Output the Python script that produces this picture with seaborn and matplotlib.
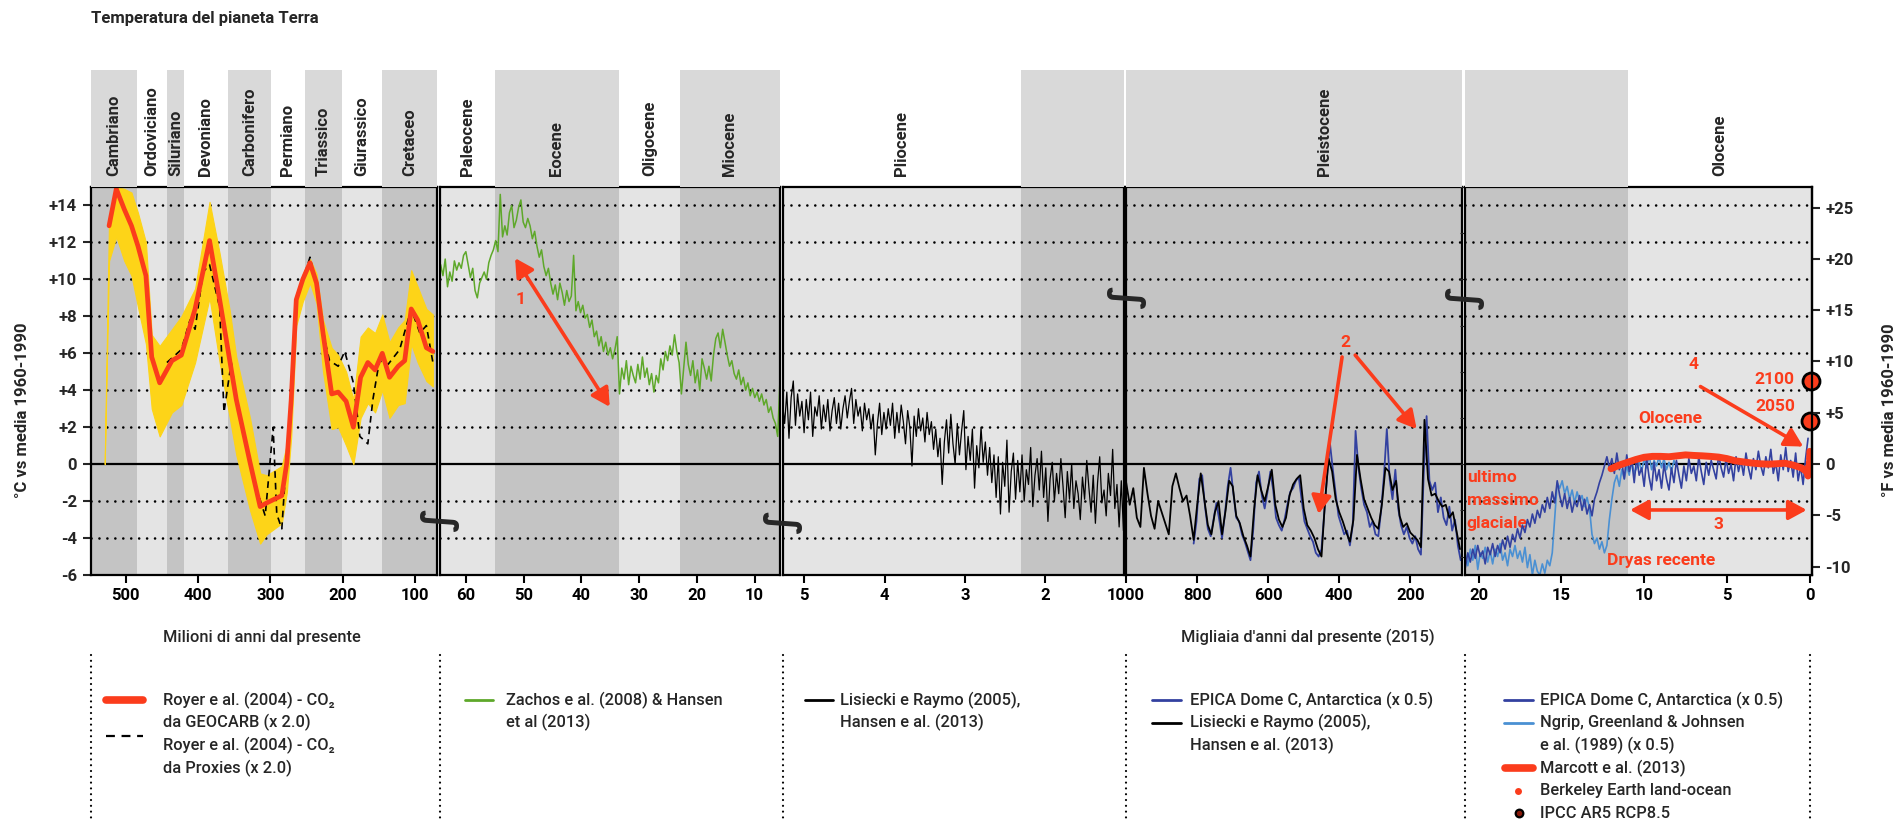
import numpy as np
import matplotlib
matplotlib.use("Agg")
import matplotlib.pyplot as plt
from matplotlib.lines import Line2D
import seaborn as sns

# ---------------------------------------------------------------- data
# Geological periods (Myr before present) and Cenozoic epochs
geo_names = ["Cambriano", "Ordoviciano", "Siluriano", "Devoniano", "Carbonifero",
             "Permiano", "Triassico", "Giurassico", "Cretaceo"]
geo_bounds = [548, 485, 443, 419, 359, 299, 252, 201, 145, 66]
ceno_names = ["Paleocene", "Eocene", "Oligocene", "Miocene"]
ceno_bounds = [66, 55, 33.5, 23, 5.33]
pliocene_end_myr = 2.3
holocene_start_kyr = 11.0

# Royer et al. (2004), GEOCARB (x 2.0), with uncertainty band; Myr
royer_age = [523, 513, 502, 492, 483, 472, 464, 453, 436, 423,
             404, 384, 370, 356, 347, 328, 314, 305, 284, 277,
             271, 264, 255, 245, 236, 227, 215, 206, 195, 185,
             175, 165, 155, 145, 135, 123, 114, 105, 96, 84, 75]
royer_temp = [12.9, 14.9, 13.8, 12.9, 11.8, 10.2, 5.8, 4.4, 5.6, 5.9,
              8.4, 12.1, 8.9, 5.6, 3.5, 0.1, -2.3, -2.1, -1.7, 0.1,
              3.5, 8.9, 10.0, 10.9, 9.8, 7.1, 3.8, 3.9, 3.4, 2.0,
              4.7, 5.5, 5.1, 6.0, 4.7, 5.3, 5.6, 8.4, 7.8, 6.3, 6.1]
royer_band_age = [529] + royer_age
royer_band_hi = [0.3,
                 13.3, 15.0, 14.9, 14.7, 13.6, 12.0, 7.0, 6.4, 7.3, 8.0,
                 9.5, 14.2, 11.4, 8.3, 5.8, 2.5, -0.5, -0.6, -0.1, 1.1,
                 4.0, 9.2, 10.3, 11.1, 10.3, 7.8, 6.3, 5.9, 5.0, 3.5,
                 6.9, 7.4, 7.1, 8.1, 6.6, 7.4, 7.8, 10.5, 9.6, 8.4, 8.1]
royer_band_lo = [0.0,
                 11.0, 12.3, 11.0, 10.2, 8.5, 6.5, 3.0, 1.5, 2.8, 3.2,
                 5.5, 9.0, 5.5, 2.5, 0.5, -2.5, -4.3, -3.8, -3.2, -1.5,
                 1.5, 7.5, 8.8, 9.8, 8.7, 5.0, 1.9, 2.0, 1.0, 0.0,
                 2.5, 3.3, 2.8, 4.0, 2.5, 3.2, 3.3, 6.5, 5.5, 4.5, 4.2]

# Royer et al. (2004), proxies (x 2.0); Myr
proxy_age = [443, 423, 411, 404, 393, 384, 370, 364, 354, 342,
             324, 307, 296, 291, 284, 278, 271, 264, 245, 234,
             224, 218, 206, 197, 185, 176, 165, 158, 149, 137,
             121, 105, 93, 84, 75]
proxy_temp = [5.5, 6.2, 7.8, 7.3, 10.4, 10.8, 8.5, 2.8, 5.5, 2.4,
              -0.7, -2.8, 2.0, -2.7, -3.5, 0.1, 3.5, 8.9, 11.2, 9.3,
              6.6, 5.6, 5.3, 6.1, 4.4, 1.5, 1.1, 3.5, 5.6, 5.4,
              6.2, 8.4, 7.1, 7.5, 5.5]

# Zachos et al. (2008) & Hansen et al. (2013); 64.8 -> 5.6 Myr
zachos_span = (64.8, 5.6)
zachos_temp = [9.3, 10.8, 10.2, 11.1, 9.6, 10.4, 9.9, 11.0, 10.5, 10.9,
               10.6, 11.3, 11.5, 10.8, 10.1, 10.6, 9.4, 9.0, 9.8, 10.1,
               10.4, 10.0, 10.9, 11.3, 11.6, 12.1, 11.5, 14.6, 12.3, 12.9,
               12.4, 13.6, 14.0, 12.8, 13.2, 13.9, 14.3, 13.1, 12.8, 13.3,
               12.9, 12.2, 12.6, 11.8, 11.2, 11.6, 10.7, 10.2, 10.6, 9.8,
               9.2, 9.7, 8.9, 9.8, 9.3, 8.6, 9.4, 8.8, 9.1, 11.3,
               8.3, 8.8, 8.2, 8.6, 7.9, 8.1, 7.4, 7.8, 6.9, 7.2,
               6.4, 6.9, 6.1, 6.6, 5.9, 6.3, 5.7, 6.2, 6.9, 3.8,
               5.2, 4.6, 5.6, 4.3, 5.3, 4.8, 4.4, 5.4, 4.6, 5.8,
               4.7, 5.2, 4.3, 4.9, 3.9, 4.8, 4.4, 5.7, 5.1, 6.1,
               5.6, 6.4, 5.9, 7.0, 6.1, 5.5, 3.8, 5.2, 6.6, 5.4,
               4.8, 5.6, 4.4, 5.1, 4.0, 5.7, 5.2, 4.6, 5.3, 4.5,
               5.9, 6.8, 7.1, 6.3, 7.3, 6.6, 5.9, 5.3, 5.6, 4.9,
               4.6, 5.1, 4.3, 4.7, 4.0, 4.4, 3.7, 4.1, 3.6, 3.9,
               3.4, 3.8, 3.2, 3.5, 2.8, 3.1, 2.5, 2.2, 1.5, 4.6]

# Lisiecki & Raymo (2005), Hansen et al. (2013); 5.27 -> 1.0 Myr
lr04_plio_span = (5.27, 1.0)
lr04_plio_temp = [3.3, 2.2, 3.9, 1.4, 3.6, 4.5, 2.1, 3.8, 2.6, 3.4,
                  1.7, 3.5, 2.4, 3.9, 1.5, 3.1, 2.6, 3.7, 1.9, 3.2,
                  2.3, 3.5, 1.8, 2.9, 3.6, 2.2, 3.3, 1.9, 3.0, 3.7,
                  2.5, 3.4, 4.1, 2.2, 3.5, 2.6, 3.1, 1.8, 3.3, 2.4,
                  3.0, 1.9, 2.7, 0.5, 2.2, 3.3, 1.6, 2.8, 1.9, 3.0,
                  2.1, 3.3, 1.4, 2.8, 1.7, 3.2, 2.3, 1.1, 2.9, 2.0,
                  -0.1, 2.6, 1.5, 3.0, 1.8, 2.5, 1.2, 2.8, 1.6, 2.3,
                  0.8, 1.9, 0.4, 1.4, -1.1, 1.2, 2.4, 0.6, 2.7, 1.1,
                  0.0, 2.2, 0.5, 1.8, 2.9, -0.3, 1.5, 0.2, 1.9, -1.3,
                  1.0, -0.2, 2.0, 0.1, 1.2, -0.6, 0.9, -1.0, 0.5, -1.8,
                  0.4, -2.7, 0.1, -1.2, 1.3, -2.6, -0.4, 0.6, -1.9, 0.2,
                  -1.5, 0.5, -2.0, -0.3, -1.1, 0.9, -2.3, -0.6, 0.3, -1.4,
                  0.7, -1.8, -0.2, -3.1, -0.8, 0.1, -2.0, -0.5, -1.6, 0.3,
                  -1.2, -2.9, -0.4, -1.9, 0.0, -2.4, -0.9, -1.6, -3.0, -0.7,
                  -1.9, 0.2, -1.3, -2.6, -0.6, -3.2, -1.0, 0.4, -2.1, -1.4,
                  -2.8, -0.5, -1.7, 0.8, -2.4, -1.1, -3.4, -0.9, -3.6, -1.5]

# Lisiecki & Raymo (2005) last million years; 1000 -> 60 kyr
lr04_pleist_span = (1000, 60)
lr04_pleist_temp = [-1.0, -2.2, -1.3, -2.9, -3.4, -0.2, -1.6, -2.8, -3.5, -2.0,
                    -2.6, -3.2, -3.8, -1.2, -0.5, -1.3, -2.0, -1.7, -2.8, -4.1,
                    -2.2, -0.5, -1.9, -3.3, -3.8, -2.6, -2.0, -3.8, -2.5, -0.9,
                    -1.2, -2.8, -3.2, -3.9, -4.4, -5.0, -2.5, -0.6, -1.4, -2.0,
                    -1.2, -0.3, -2.2, -3.0, -3.4, -2.9, -1.7, -1.1, -0.8, -0.6,
                    -2.4, -3.3, -3.6, -4.0, -4.6, -5.0, -2.0, 0.3, -0.4, -1.9,
                    -2.6, -3.1, -3.7, -4.2, -3.0, 0.5, -0.8, -1.9, -2.4, -2.9,
                    -3.3, -3.5, -2.2, -0.2, -0.4, -1.4, -0.9, -2.8, -3.4, -3.2,
                    -3.7, -3.9, -4.1, -4.5, 2.4, -0.8, -1.7, -1.6, -2.0, -2.3,
                    -2.2, -2.9, -2.6, -3.6, -4.6]

# EPICA Dome C (x 0.5); 810 -> 58 kyr
epica_span = (810, 58)
epica_temp = [-4.3, -3.1, -0.8, -0.6, -2.3, -3.5, -3.9, -3.0, -2.1, -3.0,
              -4.0, -2.7, -1.2, -0.2, -1.6, -2.9, -3.1, -3.8, -4.2, -4.7,
              -5.2, -3.5, -1.0, -0.4, -1.7, -2.4, -1.5, -0.4, -1.4, -2.9,
              -3.3, -3.6, -3.0, -2.2, -1.5, -1.3, -0.9, -0.7, -1.9, -3.1,
              -3.5, -3.9, -4.2, -4.8, -5.0, -4.6, -2.6, -0.6, 1.1, -0.3,
              -1.6, -2.8, -3.3, -3.8, -3.6, -4.4, -3.3, 1.8, -0.2, -1.3,
              -2.2, -2.6, -3.4, -3.1, -3.8, -3.9, -2.5, -0.6, 1.9, -0.8,
              -1.9, -0.3, -2.4, -3.3, -3.8, -3.4, -4.0, -4.3, -3.9, -4.6,
              -4.9, -0.5, 2.6, -0.9, -1.4, -1.0, -2.6, -1.8, -2.9, -3.3,
              -2.3, -3.6, -3.0, -4.4, -5.2]

# EPICA Dome C (x 0.5), deglaciation and Holocene; 20.8 -> 0.1 kyr
epica_hol_span = (20.8, 0.1)
epica_hol_temp = [-5.6, -4.8, -5.3, -4.6, -5.1, -4.4, -5.0, -4.7, -5.4, -4.5,
                  -4.9, -4.3, -5.0, -4.4, -4.8, -4.1, -4.6, -3.9, -4.5, -3.8,
                  -4.2, -3.5, -4.0, -3.3, -3.7, -3.0, -3.4, -2.7, -3.2, -2.5,
                  -2.9, -2.2, -2.6, -1.8, -2.4, -1.5, -2.1, -0.9, -1.7, -2.3,
                  -1.6, -2.4, -1.8, -2.6, -2.0, -2.3, -1.7, -2.5, -1.9, -2.7,
                  -2.2, -2.8, -1.9, -1.5, -1.0, -0.6, -0.1, 0.4, -0.2, 0.3,
                  -0.5, 0.6, -0.3, 0.1, -0.8, 0.5, -0.4, 0.2, -1.0, 0.4,
                  -0.6, -0.2, -1.2, 0.3, -0.7, -1.4, 0.1, -0.9, -0.3, -1.3,
                  0.0, -0.8, -1.4, -0.2, -1.0, 0.2, -0.6, -1.3, -0.1, -0.9,
                  0.3, -0.5, -0.1, -0.9, 0.4, -0.4, -1.1, 0.1, -0.6, 0.2,
                  -0.3, -0.8, 0.5, -0.2, -0.7, 0.3, -0.5, 0.0, -0.9, 0.4,
                  -0.4, 0.2, -0.6, 0.6, -0.2, -0.8, 0.3, -0.3, 0.7, -0.1,
                  -0.6, 0.4, -0.2, 0.8, -0.5, 0.1, -0.9, 0.5, -0.3, 0.9,
                  -0.4, 0.2, -0.7, 0.6, -0.9, -0.1, -1.1, 0.3, 1.4]

# NGRIP, Greenland & Johnsen et al. (1989) (x 0.5); 20.8 -> 8.05 kyr
ngrip_span = (20.8, 8.05)
ngrip_temp = [-4.9, -5.5, -4.6, -5.2, -4.4, -5.7, -4.8, -5.1, -4.5, -5.3,
              -4.7, -5.4, -4.6, -5.0, -4.3, -5.2, -4.8, -5.5, -4.6, -5.0,
              -4.4, -5.1, -4.7, -5.3, -4.5, -5.6, -4.9, -6.0, -5.2, -5.8,
              -6.0, -5.4, -5.9, -5.2, -5.5, -4.8, -2.9, -1.0, -1.3, -0.9,
              -1.6, -1.2, -1.9, -1.4, -2.1, -1.5, -2.0, -1.7, -2.3, -1.8,
              -2.4, -3.8, -4.3, -4.0, -4.6, -4.2, -4.8, -4.4, -3.0, -1.9,
              -1.0, -0.6, -1.2, -0.3, -0.8, -0.1, -0.6, 0.2, -0.5, -0.2,
              0.1, -0.4, 0.3, -0.2, 0.5, -0.3, 0.2, -0.1, 0.4, -0.2,
              0.3, -0.3, 0.1, -0.4, 0.2, -0.1]

# Marcott et al. (2013); kyr
marcott_age = [12.0, 11.5, 11.0, 10.5, 10.0, 9.5, 9.0, 8.5, 8.0, 7.5, 7.0, 6.5,
               6.0, 5.5, 5.0, 4.5, 4.0, 3.5, 3.0, 2.5, 2.0, 1.5, 1.0, 0.5, 0.2]
marcott_temp = [-0.25, -0.05, 0.1, 0.25, 0.37, 0.42, 0.42, 0.4, 0.45, 0.5, 0.47, 0.45,
                0.42, 0.38, 0.3, 0.18, 0.12, 0.06, 0.02, 0.0, 0.02, 0.05, -0.05, -0.2, -0.4]

# Berkeley Earth land-ocean (calendar years) and IPCC AR5 RCP8.5 projections
berkeley_year = [1850, 1860, 1870, 1880, 1890, 1900, 1910, 1920, 1930,
                 1940, 1950, 1960, 1970, 1980, 1990, 2000, 2010, 2015]
berkeley_temp = [-0.45, -0.5, -0.4, -0.45, -0.6, -0.5, -0.65, -0.45, -0.35,
                 -0.15, -0.25, -0.1, -0.05, 0.1, 0.3, 0.45, 0.6, 0.7]
ipcc_year = [2050, 2100]
ipcc_temp = [2.35, 4.5]
present_year = 2015

left_ticks = [-6, -4, -2, 0, 2, 4, 6, 8, 10, 12, 14]
right_ticks = [-10, -5, 0, 5, 10, 15, 20, 25]

# ---------------------------------------------------------------- style
sns.set_style("white")
plt.rcParams["font.family"] = ["Roboto", "DejaVu Sans"]

RED = "#fb3c1c"
YELLOW = "#fdd418"
GREEN = "#5ea82a"
BLUE_D = "#3341a0"
BLUE_L = "#4a90d3"
BAND_DARK, BAND_LIGHT = "#c4c4c4", "#e4e4e4"
HEAD_DARK = "#d9d9d9"

W, H = 1898, 822
fig = plt.figure(figsize=(W / 100, H / 100), dpi=100)
fig.patch.set_facecolor("white")


def fx(px):
    return px / W


def fy(py):
    return 1 - py / H


def signed(v):
    return f"+{v}" if v > 0 else f"{v}"


# panel layout (pixels) and axis ranges
panel_px = [(91, 436.5), (439.5, 780), (782.5, 1124), (1126, 1462), (1464.5, 1811.7)]
panel_xlim = [(548, 70), (64.6, 5.6), (5.27, 1.02), (1000.5, 54.3), (20.85, -0.12)]
panel_ticks = [[500, 400, 300, 200, 100], [60, 50, 40, 30, 20, 10], [5, 4, 3, 2],
               [1000, 800, 600, 400, 200], [20, 15, 10, 5, 0]]
TOP, BOT, HEAD_TOP = 187, 575, 70
Y_LIM = (-6, 15.0)

axes, heads = [], []
for (x0, x1), xl, tk in zip(panel_px, panel_xlim, panel_ticks):
    ax = fig.add_axes([fx(x0), fy(BOT), fx(x1) - fx(x0), (BOT - TOP) / H])
    ax.set_xlim(*xl)
    ax.set_ylim(*Y_LIM)
    ax.set_facecolor("none")
    ax.set_xticks(tk)
    ax.set_xticklabels([str(t) for t in tk], fontsize=12, fontweight="bold")
    ax.tick_params(axis="x", bottom=True, direction="out", length=6, width=1.5,
                   pad=3, colors="black")
    ax.tick_params(axis="y", left=False, labelleft=False)
    for s in ax.spines.values():
        s.set_color("black")
        s.set_linewidth(1.6)
        s.set_zorder(6)
    hx = fig.add_axes([fx(x0), fy(TOP), fx(x1) - fx(x0), (TOP - HEAD_TOP) / H])
    hx.set_xlim(*xl)
    hx.set_ylim(0, 1)
    hx.axis("off")
    axes.append(ax)
    heads.append(hx)

# left axis (°C)
axes[0].set_yticks(left_ticks)
axes[0].set_yticklabels([signed(t) for t in left_ticks], fontsize=12, fontweight="bold")
axes[0].tick_params(axis="y", left=True, labelleft=True, direction="out", length=6,
                    width=1.5, pad=4)

# right axis (°F)
axr = axes[4].twinx()
axr.set_ylim(Y_LIM[0] * 1.8, Y_LIM[1] * 1.8)
axr.set_yticks(right_ticks)
axr.set_yticklabels([signed(t) for t in right_ticks], fontsize=12, fontweight="bold")
axr.tick_params(axis="y", right=True, direction="out", length=6, width=1.5, pad=4)
for name, s in axr.spines.items():
    s.set_visible(name == "right")
    s.set_color("black")
    s.set_linewidth(1.6)

# ---------------------------------------------------------------- period bands
segments = []  # (panel, start, end, dark)
for i in range(len(geo_names)):
    segments.append((0, geo_bounds[i], geo_bounds[i + 1], i % 2 == 0))
for i in range(len(ceno_names)):
    segments.append((1, ceno_bounds[i], ceno_bounds[i + 1], i % 2 == 1))
segments += [(2, ceno_bounds[-1], pliocene_end_myr, False),
             (2, pliocene_end_myr, 0.5, True),
             (3, 1100, 0, True),
             (4, 25, holocene_start_kyr, True),
             (4, holocene_start_kyr, -1, False)]
for p, a, b, dark in segments:
    axes[p].axvspan(a, b, color=BAND_DARK if dark else BAND_LIGHT, lw=0, zorder=0)
    if dark:
        heads[p].axvspan(a, b, color=HEAD_DARK, lw=0, zorder=0)


def disp_x(p, x):
    lo, hi = sorted(panel_xlim[p])
    x = min(max(x, lo), hi)
    return axes[p].transData.transform((x, 0))[0] / fig.bbox.width


def head_label(name, x_frac):
    fig.text(x_frac, fy(176), name, rotation=90, ha="center", va="bottom",
             fontsize=12, fontweight="bold")


for i, n in enumerate(geo_names):
    head_label(n, (disp_x(0, geo_bounds[i]) + disp_x(0, geo_bounds[i + 1])) / 2)
for i, n in enumerate(ceno_names):
    head_label(n, (disp_x(1, ceno_bounds[i]) + disp_x(1, ceno_bounds[i + 1])) / 2)
head_label("Pliocene", (disp_x(2, ceno_bounds[-1]) + disp_x(2, pliocene_end_myr)) / 2)
head_label("Pleistocene", (disp_x(2, pliocene_end_myr) + disp_x(4, holocene_start_kyr)) / 2)
head_label("Olocene", (disp_x(4, holocene_start_kyr) + disp_x(4, -1)) / 2)

# ---------------------------------------------------------------- grid and zero line
for ax in axes:
    for v in left_ticks[1:]:
        if v == 0:
            ax.axhline(0, color="black", lw=1.6, zorder=1)
        else:
            ax.axhline(v, color="black", lw=1.9, ls=(0, (0.01, 3.0)),
                       dash_capstyle="round", zorder=1)

# ---------------------------------------------------------------- series
a0, a1, a2, a3, a4 = axes
a0.fill_between(royer_band_age, royer_band_lo, royer_band_hi, color=YELLOW, lw=0.8,
                edgecolor=YELLOW, zorder=2)
sns.lineplot(x=proxy_age, y=proxy_temp, ax=a0, color="black", linewidth=1.2,
             dashes=False, linestyle=(0, (4, 3)), sort=False, estimator=None, zorder=3)
sns.lineplot(x=royer_age, y=royer_temp, ax=a0, color=RED, linewidth=3.4,
             sort=False, estimator=None, zorder=4)

sns.lineplot(x=np.linspace(*zachos_span, len(zachos_temp)), y=zachos_temp, ax=a1,
             color=GREEN, linewidth=1.1, sort=False, estimator=None, zorder=3)

sns.lineplot(x=np.linspace(*lr04_plio_span, len(lr04_plio_temp)), y=lr04_plio_temp,
             ax=a2, color="black", linewidth=0.9, sort=False, estimator=None, zorder=3)

sns.lineplot(x=np.linspace(*epica_span, len(epica_temp)), y=epica_temp, ax=a3,
             color=BLUE_D, linewidth=1.3, sort=False, estimator=None, zorder=3)
sns.lineplot(x=np.linspace(*lr04_pleist_span, len(lr04_pleist_temp)), y=lr04_pleist_temp,
             ax=a3, color="black", linewidth=1.3, sort=False, estimator=None, zorder=4)

sns.lineplot(x=np.linspace(*ngrip_span, len(ngrip_temp)), y=ngrip_temp, ax=a4,
             color=BLUE_L, linewidth=1.2, sort=False, estimator=None, zorder=3)
sns.lineplot(x=np.linspace(*epica_hol_span, len(epica_hol_temp)), y=epica_hol_temp, ax=a4,
             color=BLUE_D, linewidth=1.2, sort=False, estimator=None, zorder=4)
sns.lineplot(x=marcott_age, y=marcott_temp, ax=a4, color=RED, linewidth=5,
             sort=False, estimator=None, zorder=5)
berk_age = [(present_year - y) / 1000 for y in berkeley_year]
sns.scatterplot(x=berk_age, y=berkeley_temp, ax=a4, color=RED, s=22, edgecolor="none",
                zorder=6)
ipcc_age = [(present_year - y) / 1000 for y in ipcc_year]
sns.scatterplot(x=ipcc_age, y=ipcc_temp, ax=a4, color=RED, s=150, edgecolor="black",
                linewidth=2, zorder=8, clip_on=False)

# ---------------------------------------------------------------- annotations
ANN = dict(color=RED, fontsize=12.5, fontweight="bold")
arrow2 = dict(arrowstyle="<|-|>,head_length=0.55,head_width=0.3", color=RED, lw=2.6,
              mutation_scale=20, shrinkA=0, shrinkB=0)
arrow1 = dict(arrowstyle="-|>,head_length=0.55,head_width=0.3", color=RED, lw=2.6,
              mutation_scale=20, shrinkA=0, shrinkB=0)

a1.annotate("", xy=(35.1, 3.1), xytext=(51.5, 11.15), arrowprops=arrow2, zorder=7)
a1.text(50.5, 8.9, "1", ha="center", va="center", **ANN)

a3.text(383, 6.6, "2", ha="center", va="center", **ANN)
a3.annotate("", xy=(458, -2.7), xytext=(392, 5.8), arrowprops=arrow1, zorder=7)
a3.annotate("", xy=(182, 1.9), xytext=(355, 5.9), arrowprops=arrow1, zorder=7)

a4.annotate("", xy=(0.18, -2.48), xytext=(10.85, -2.48), arrowprops=arrow2, zorder=7)
a4.text(5.5, -3.25, "3", ha="center", va="center", **ANN)
a4.annotate("", xy=(0.39, 0.95), xytext=(6.6, 4.2), arrowprops=arrow1, zorder=7)
a4.text(7.0, 5.4, "4", ha="center", va="center", **ANN)

a4.text(8.45, 2.45, "Olocene", ha="center", va="center", **ANN)
a4.text(8.95, -5.2, "Dryas recente", ha="center", va="center", **ANN)
for line, t in zip(["ultimo", "massimo", "glaciale"], [-0.7, -1.95, -3.2]):
    a4.text(20.72, t, line, ha="left", va="center", **ANN)
a4.text(0.9, 4.6, "2100", ha="right", va="center", **ANN)
a4.text(0.9, 3.1, "2050", ha="right", va="center", **ANN)

# scale-break marks between panels
for i, t in [(0, -3.1), (1, -3.2), (2, 9.0), (3, 8.9)]:
    xb = (panel_px[i][1] + panel_px[i + 1][0]) / 2
    yb = axes[i].transData.transform((panel_xlim[i][1], t))[1] / fig.bbox.height
    fig.text(fx(xb), yb, "\u222b", rotation=-90, ha="center", va="center",
             fontsize=29, fontweight="bold", family="DejaVu Sans", zorder=20)

# ---------------------------------------------------------------- titles and labels
fig.text(fx(91), fy(18), "Temperatura del pianeta Terra", ha="left", va="center",
         fontsize=12, fontweight="bold")
fig.text(fx(23), fy(410), "°C vs media 1960-1990", rotation=90, ha="center",
         va="center", fontsize=12, fontweight="bold")
fig.text(fx(1890), fy(410), "°F vs media 1960-1990", rotation=90, ha="center",
         va="center", fontsize=12, fontweight="bold")
fig.text(fx(163), fy(637), "Milioni di anni dal presente", ha="left", va="center",
         fontsize=11.8, fontweight="medium")
fig.text(fx(1308), fy(637), "Migliaia d'anni dal presente (2015)", ha="center",
         va="center", fontsize=11.8, fontweight="medium")

# ---------------------------------------------------------------- legend
sep_x = [p[0] for p in panel_px] + [panel_px[-1][1] - 2]
for xs in sep_x:
    fig.add_artist(Line2D([fx(xs), fx(xs)], [fy(655), fy(822)], transform=fig.transFigure,
                          color="black", lw=1.6, ls=(0, (0.01, 2.6)),
                          dash_capstyle="round"))


def leg_line(x0, x1, y, **kw):
    fig.add_artist(Line2D([fx(x0), fx(x1)], [fy(y), fy(y)], transform=fig.transFigure, **kw))


def leg_dot(x, y, **kw):
    fig.add_artist(Line2D([fx(x)], [fy(y)], transform=fig.transFigure, ls="none",
                          marker="o", **kw))


def leg_text(x, y, s):
    fig.text(fx(x), fy(y), s, ha="left", va="center", fontsize=11.8, fontweight="medium")


R = [700, 722.7, 745.4, 768, 790.7, 813.3]
leg_line(106, 143, R[0], color=RED, lw=5.5, solid_capstyle="round")
leg_text(163, R[0], "Royer e al. (2004) - CO\u2082")
leg_text(163, R[1], "da GEOCARB (x 2.0)")
leg_line(106, 143, 736, color="black", lw=1.6, ls=(0, (4, 3)))
leg_text(163, R[2], "Royer e al. (2004) - CO\u2082")
leg_text(163, R[3], "da Proxies (x 2.0)")

leg_line(465, 493, R[0], color=GREEN, lw=2)
leg_text(506, R[0], "Zachos e al. (2008) & Hansen")
leg_text(506, R[1], "et al (2013)")

leg_line(805, 833, R[0], color="black", lw=2)
leg_text(840, R[0], "Lisiecki e Raymo (2005),")
leg_text(840, R[1], "Hansen e al. (2013)")

leg_line(1152, 1181, R[0], color=BLUE_D, lw=2)
leg_text(1190, R[0], "EPICA Dome C, Antarctica (x 0.5)")
leg_line(1152, 1181, R[1], color="black", lw=2)
leg_text(1190, R[1], "Lisiecki e Raymo (2005),")
leg_text(1190, R[2], "Hansen e al. (2013)")

leg_line(1504, 1533, R[0], color=BLUE_D, lw=2)
leg_text(1540, R[0], "EPICA Dome C, Antarctica (x 0.5)")
leg_line(1504, 1533, R[1], color=BLUE_L, lw=2)
leg_text(1540, R[1], "Ngrip, Greenland & Johnsen")
leg_text(1540, R[2], "e al. (1989) (x 0.5)")
leg_line(1505, 1533, R[3], color=RED, lw=5.5, solid_capstyle="round")
leg_text(1540, R[3], "Marcott e al. (2013)")
leg_dot(1518, R[4], color=RED, ms=5, mec="none")
leg_text(1540, R[4], "Berkeley Earth land-ocean")
leg_dot(1519, R[5], color="#8a1a0a", ms=5.5, mec="black", mew=1.6)
leg_text(1540, R[5], "IPCC AR5 RCP8.5")

fig.savefig("out.png", dpi=100, facecolor="white")
